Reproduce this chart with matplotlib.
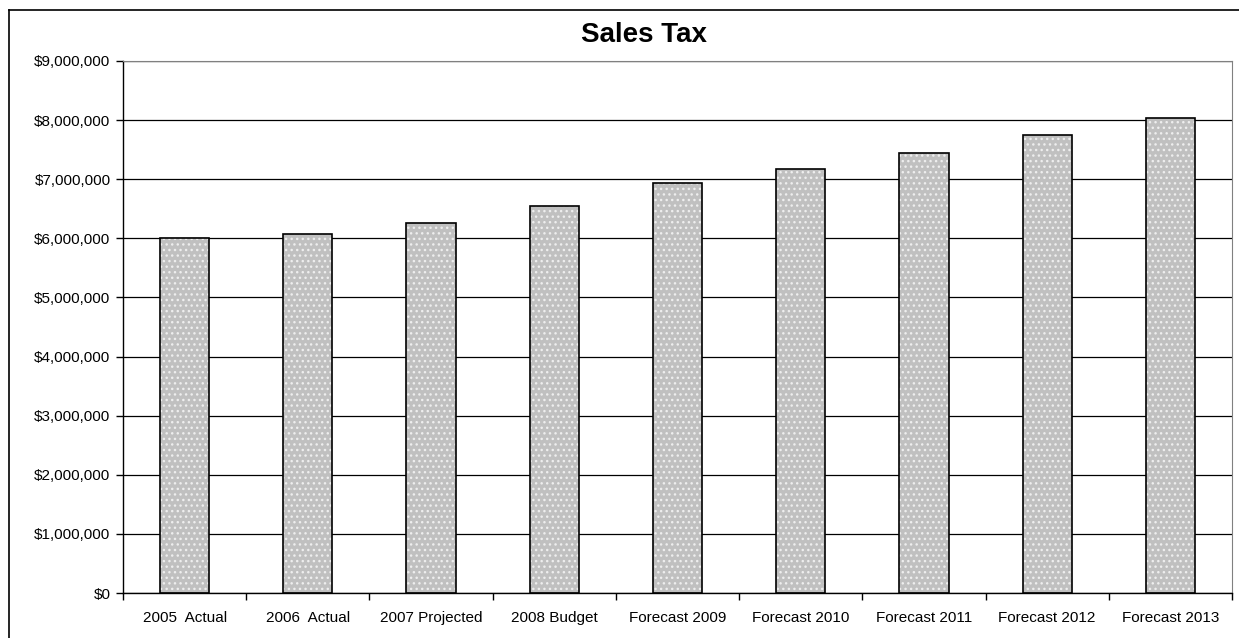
import numpy as np
import matplotlib.pyplot as plt
from matplotlib.ticker import FuncFormatter, MultipleLocator

plt.rcParams['font.family'] = ['Liberation Sans', 'DejaVu Sans']

# Sales tax revenue by year
categories = ['2005  Actual', '2006  Actual', '2007 Projected', '2008 Budget',
              'Forecast 2009', 'Forecast 2010', 'Forecast 2011', 'Forecast 2012',
              'Forecast 2013']
sales_tax = [6000000, 6080000, 6260000, 6550000, 6930000,
             7170000, 7440000, 7740000, 8030000]

fig = plt.figure(figsize=(12.39, 6.38), dpi=100)
ax = fig.add_axes([123 / 1239, 1 - 593 / 638, 1109 / 1239, 532 / 638])

x = np.arange(len(categories))

# dotted gray fill, then the black outline on top
ax.bar(x, sales_tax, width=0.4, color='#c0c0c0', edgecolor='#eeeeee',
       hatch='...', linewidth=0, zorder=2)
ax.bar(x, sales_tax, width=0.4, fill=False, edgecolor='black',
       linewidth=1.2, zorder=3)

ax.set_xlim(-0.5, len(categories) - 0.5)
ax.set_ylim(0, 9000000)
ax.yaxis.set_major_locator(MultipleLocator(1000000))
ax.yaxis.set_major_formatter(FuncFormatter(lambda v, p: f'${v:,.0f}'))
ax.yaxis.grid(True, color='black', linewidth=0.9, zorder=1)
ax.set_axisbelow(True)

ax.set_xticks(x)
ax.set_xticklabels(categories)
ax.set_xticks(np.arange(len(categories) + 1) - 0.5, minor=True)
ax.tick_params(axis='x', which='major', length=0, pad=13, labelsize=11)
ax.tick_params(axis='x', which='minor', length=5, width=1, direction='out')
ax.tick_params(axis='y', length=5, width=1, labelsize=11, pad=4)

for side in ['top', 'right']:
    ax.spines[side].set_color('#808080')
for side in ['left', 'bottom']:
    ax.spines[side].set_color('black')
    ax.spines[side].set_linewidth(1)

fig.text(644 / 1239, 1 - 35 / 638, 'Sales Tax', ha='center', va='center',
         fontsize=20, fontweight='bold')

# chart border
fig.add_artist(plt.Line2D([9 / 1239, 9 / 1239], [0, 1 - 10 / 638],
                          transform=fig.transFigure, color='black', linewidth=1.2))
fig.add_artist(plt.Line2D([9 / 1239, 1], [1 - 10 / 638, 1 - 10 / 638],
                          transform=fig.transFigure, color='black', linewidth=1.2))

fig.savefig('out.png', dpi=100)
